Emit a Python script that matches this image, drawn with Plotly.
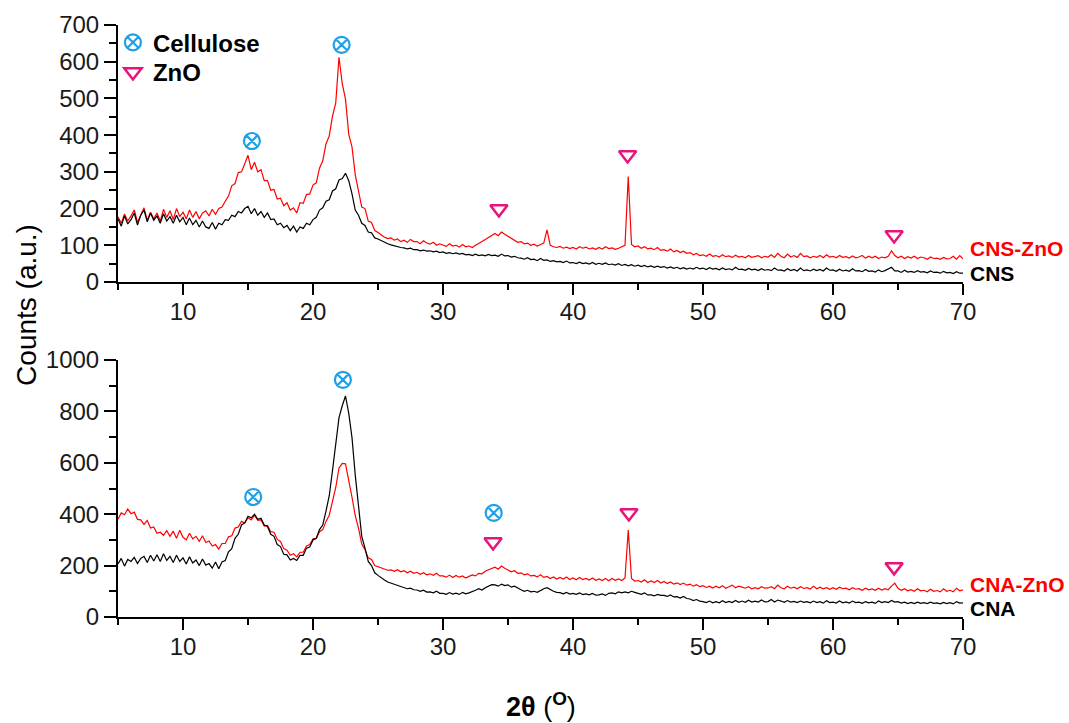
import numpy as np
import plotly.graph_objects as go

# 2-theta grid (degrees), 0.25 deg step from 5 to 70
two_theta = np.round(np.arange(5.0, 70.0001, 0.25), 2)

# ---- Top panel: CNS-ZnO (red) and CNS (black) ----
cns_zno = [
    178, 160, 185, 166,  180, 196, 163, 184,  202, 168, 190, 172,  188, 166, 198, 176,
    194, 170, 200, 178,  190, 172, 196, 176,  192, 172, 188, 194,  180, 198, 184, 200,
    204, 220, 234, 262,  268, 298, 300, 322,  345, 306, 326, 300,  306, 276, 276, 250,
    252, 226, 228, 208,  216, 196, 202, 188,  216, 214, 238, 240,  264, 270, 310, 330,
    376, 398, 452, 488,  612, 540, 498, 402,  368, 292, 248, 204,  200, 166, 162, 140,
    135, 128, 122, 118,  120, 114, 117, 110,  114, 108, 116, 110,  110, 104, 112, 106,
    103, 108, 100, 104,  101, 97, 104, 98,    100, 95, 102, 96,    98, 94, 100, 104,
    110, 116, 122, 128,  132, 126, 136, 130,  125, 118, 114, 108,  110, 104, 106, 100,
    103, 98, 102, 106,   142, 100, 96, 94,    97, 92, 95, 91,      94, 90, 96, 92,
    95, 90, 93, 89,      94, 90, 96, 91,      93, 89, 92, 96,      100, 287, 102, 96,
    98, 92, 96, 90,      92, 88, 94, 86,      88, 84, 90, 82,      86, 80, 84, 78,
    80, 74, 78, 72,      74, 70, 76, 70,      72, 68, 74, 69,      71, 67, 73, 68,
    70, 66, 72, 67,      69, 72, 66, 70,      68, 74, 67, 78,      70, 66, 76, 68,
    72, 67, 78, 69,      71, 66, 70, 67,      72, 66, 74, 68,      70, 66, 72, 67,
    69, 65, 71, 66,      68, 72, 65, 70,      66, 70, 64, 68,      66, 70, 85, 72,
    66, 70, 64, 69,      65, 70, 64, 68,      66, 62, 68, 64,      65, 62, 67, 63,
    64, 70, 62, 72,      63,
]
cns = [
    172, 152, 180, 158,  170, 188, 155, 182,  196, 164, 188, 168,  180, 160, 186, 166,
    178, 160, 182, 164,  176, 156, 174, 156,  168, 150, 166, 150,  146, 162, 144, 160,
    156, 170, 168, 182,  178, 192, 188, 200,  206, 186, 200, 182,  192, 176, 188, 170,
    172, 156, 160, 148,  154, 140, 152, 136,  150, 146, 160, 156,  170, 176, 196, 202,
    220, 224, 248, 254,  278, 282, 296, 276,  240, 196, 182, 160,  154, 136, 134, 120,
    117, 112, 108, 104,  101, 98, 96, 94,     93, 90, 92, 88,      88, 85, 87, 84,
    85, 82, 84, 80,      82, 78, 80, 77,      79, 76, 78, 74,      75, 72, 76, 72,
    74, 71, 75, 72,      73, 70, 76, 71,      72, 68, 70, 66,      65, 62, 66, 61,
    62, 58, 64, 59,      60, 56, 58, 55,      56, 53, 57, 52,      53, 50, 54, 50,
    52, 49, 53, 48,      51, 48, 52, 47,      49, 46, 50, 45,      48, 44, 47, 43,
    46, 42, 45, 41,      44, 40, 43, 40,      42, 38, 41, 37,      40, 36, 39, 35,
    38, 35, 40, 36,      38, 34, 39, 35,      37, 33, 38, 34,      36, 33, 40, 34,
    35, 32, 37, 33,      35, 31, 36, 32,      34, 31, 38, 32,      33, 30, 36, 31,
    34, 30, 38, 31,      33, 30, 35, 31,      34, 30, 38, 32,      33, 29, 35, 30,
    32, 29, 36, 30,      31, 28, 34, 29,      30, 27, 33, 28,      31, 36, 40, 30,
    30, 26, 32, 27,      29, 26, 31, 27,      28, 25, 30, 26,      27, 24, 29, 25,
    26, 23, 28, 24,      24,
]

# ---- Bottom panel: CNA-ZnO (red) and CNA (black) ----
cna_zno = [
    380, 405, 398, 420,  402, 408, 380, 378,  360, 376, 346, 350,  326, 330, 318, 336,
    314, 334, 306, 338,  310, 300, 326, 304,  314, 294, 316, 290,  296, 276, 282, 264,
    286, 286, 312, 316,  346, 350, 372, 366,  386, 378, 396, 376,  378, 354, 356, 332,
    330, 302, 294, 266,  260, 240, 246, 234,  252, 252, 276, 282,  304, 306, 332, 340,
    372, 396, 450, 504,  580, 598, 596, 534,  466, 394, 346, 284,  262, 230, 224, 200,
    196, 190, 186, 182,  183, 178, 184, 176,  180, 172, 178, 170,  174, 166, 172, 164,
    168, 162, 170, 160,  160, 155, 163, 154,  162, 155, 160, 152,  158, 164, 160, 170,
    168, 178, 184, 190,  194, 186, 198, 190,  184, 176, 180, 170,  172, 164, 168, 160,
    162, 156, 164, 154,  158, 150, 156, 148,  154, 148, 156, 146,  152, 145, 154, 146,
    150, 144, 152, 143,  148, 142, 150, 141,  150, 143, 148, 142,  152, 338, 150, 140,
    142, 136, 145, 134,  140, 134, 142, 132,  138, 130, 136, 128,  133, 126, 132, 124,
    128, 120, 126, 118,  122, 115, 120, 113,  120, 114, 122, 112,  118, 124, 114, 120,
    116, 112, 118, 110,  114, 110, 118, 112,  113, 118, 110, 124,  114, 110, 120, 112,
    116, 110, 118, 111,  114, 109, 120, 110,  116, 110, 114, 108,  114, 108, 116, 110,
    112, 106, 114, 108,  110, 104, 112, 106,  109, 104, 112, 105,  110, 106, 120, 132,
    112, 104, 110, 102,  106, 100, 110, 102,  104, 98, 108, 100,   103, 98, 110, 100,
    104, 98, 112, 102,   106,
]
cna = [
    206, 228, 198, 224,  216, 232, 208, 228,  236, 212, 240, 218,  242, 216, 246, 220,
    236, 212, 240, 216,  230, 206, 234, 210,  222, 200, 226, 202,  208, 190, 214, 188,
    214, 220, 254, 266,  306, 322, 358, 366,  392, 386, 400, 380,  384, 358, 352, 322,
    314, 282, 274, 244,  242, 222, 228, 220,  240, 240, 268, 272,  300, 306, 340, 358,
    412, 472, 570, 672,  776, 822, 860, 792,  698, 552, 428, 314,  268, 216, 200, 172,
    162, 152, 144, 136,  132, 126, 122, 118,  114, 110, 112, 106,  105, 100, 104, 97,
    98, 94, 100, 92,     92, 88, 95, 89,      93, 88, 96, 90,      94, 98, 104, 110,
    105, 114, 120, 126,  125, 120, 128, 122,  125, 116, 120, 112,  106, 100, 104, 98,
    100, 96, 104, 110,   114, 106, 100, 96,   95, 90, 96, 89,      92, 88, 94, 87,
    90, 86, 92, 85,      86, 90, 84, 92,      94, 90, 98, 94,      98, 94, 100, 96,
    92, 88, 94, 86,      86, 82, 88, 84,      84, 80, 86, 78,      79, 74, 80, 72,
    70, 64, 68, 62,      60, 56, 62, 55,      60, 55, 63, 56,      61, 56, 64, 57,
    62, 57, 65, 58,      62, 58, 66, 59,      60, 68, 58, 66,      62, 57, 64, 58,
    61, 56, 62, 57,      60, 55, 62, 56,      60, 54, 63, 56,      58, 54, 62, 55,
    59, 54, 62, 56,      58, 53, 60, 55,      58, 53, 62, 56,      60, 56, 64, 58,
    60, 54, 58, 52,      57, 52, 58, 53,      56, 52, 58, 53,      55, 51, 57, 52,
    56, 51, 60, 54,      55,
]

# ---- Peak markers (position in 2-theta, height of symbol) ----
cell_top_x = [15.3, 22.2]
cell_top_y = [384, 646]
zno_top_x = [34.3, 44.2, 64.7]
zno_top_y = [199, 346, 128]
cell_bot_x = [15.4, 22.3, 33.9]
cell_bot_y = [467, 923, 405]
zno_bot_x = [33.85, 44.3, 64.7]
zno_bot_y = [292, 405, 195]

RED = "#ff0000"
BLACK = "#000000"
BLUE = "#1ea0e8"
PINK = "#e8147c"
FONT = "Liberation Sans, Arial, sans-serif"

fig = go.Figure()

# data lines
fig.add_trace(go.Scatter(x=two_theta, y=cns_zno, mode="lines", line=dict(color=RED, width=1.2),
                         showlegend=False, xaxis="x", yaxis="y"))
fig.add_trace(go.Scatter(x=two_theta, y=cns, mode="lines", line=dict(color=BLACK, width=1.2),
                         showlegend=False, xaxis="x", yaxis="y"))
fig.add_trace(go.Scatter(x=two_theta, y=cna_zno, mode="lines", line=dict(color=RED, width=1.2),
                         showlegend=False, xaxis="x2", yaxis="y2"))
fig.add_trace(go.Scatter(x=two_theta, y=cna, mode="lines", line=dict(color=BLACK, width=1.2),
                         showlegend=False, xaxis="x2", yaxis="y2"))

cell_marker = dict(symbol="circle-x-open", size=16, color=BLUE, line=dict(color=BLUE, width=2.2))
zno_marker = dict(symbol="triangle-down-open", size=15, color=PINK, line=dict(color=PINK, width=2.5))

fig.add_trace(go.Scatter(x=cell_top_x, y=cell_top_y, mode="markers", marker=cell_marker,
                         name="Cellulose", showlegend=True, legend="legend",
                         xaxis="x", yaxis="y"))
fig.add_trace(go.Scatter(x=zno_top_x, y=zno_top_y, mode="markers", marker=zno_marker,
                         name="ZnO", showlegend=True, legend="legend2",
                         xaxis="x", yaxis="y"))
fig.add_trace(go.Scatter(x=cell_bot_x, y=cell_bot_y, mode="markers", marker=cell_marker,
                         showlegend=False, xaxis="x2", yaxis="y2"))
fig.add_trace(go.Scatter(x=zno_bot_x, y=zno_bot_y, mode="markers", marker=zno_marker,
                         showlegend=False, xaxis="x2", yaxis="y2"))

tickfont = dict(family=FONT, size=24, color="#1a1a1a")
common_x = dict(range=[5, 70], showline=True, linewidth=2, linecolor=BLACK,
                ticks="outside", ticklen=11, tickwidth=2, tickcolor=BLACK,
                tick0=0, dtick=10, showgrid=False, zeroline=False, tickfont=tickfont,
                ticklabelstandoff=-4,
                minor=dict(ticks="outside", ticklen=6, tickwidth=2, tickcolor=BLACK,
                           tick0=0, dtick=5, showgrid=False))
common_y = dict(showline=True, linewidth=2, linecolor=BLACK,
                ticks="outside", ticklen=12, tickwidth=2, tickcolor=BLACK,
                showgrid=False, zeroline=False, tickfont=tickfont)

legend_font = dict(family=FONT, size=24, color=BLACK, weight="bold")

fig.update_layout(
    width=1069, height=723,
    margin=dict(l=118, r=106, t=25, b=106),
    paper_bgcolor="white", plot_bgcolor="white",
    xaxis=dict(domain=[0, 1], anchor="y", **common_x),
    yaxis=dict(domain=[0.5659, 1], anchor="x", range=[0, 700], tick0=0, dtick=100,
               minor=dict(ticks="outside", ticklen=7, tickwidth=2, tickcolor=BLACK,
                          tick0=0, dtick=50, showgrid=False), **common_y),
    xaxis2=dict(domain=[0, 1], anchor="y2", **common_x),
    yaxis2=dict(domain=[0, 0.4341], anchor="x2", range=[0, 1000], tick0=0, dtick=200,
                minor=dict(ticks="outside", ticklen=7, tickwidth=2, tickcolor=BLACK,
                           tick0=0, dtick=100, showgrid=False), **common_y),
    legend=dict(x=-0.006, y=1.008, xanchor="left", yanchor="top",
                bgcolor="rgba(0,0,0,0)", font=legend_font),
    legend2=dict(x=-0.006, y=0.958, xanchor="left", yanchor="top",
                 bgcolor="rgba(0,0,0,0)", font=legend_font),
    showlegend=True,
)

annotations = [
    dict(text="Counts (a.u.)", xref="paper", yref="paper", x=-0.109, y=0.527,
         xanchor="center", yanchor="middle",
         textangle=-90, showarrow=False, font=dict(family=FONT, size=28, color=BLACK)),
    dict(text="<b>2θ</b> (<sup><b>O</b></sup>)", xref="paper", yref="paper",
         x=0.5, y=-0.149, yanchor="middle", showarrow=False,
         font=dict(family=FONT, size=27, color=BLACK)),
    dict(text="<b>CNS-ZnO</b>", xref="x", yref="y", x=70, y=90, xanchor="left", xshift=5,
         showarrow=False, font=dict(family=FONT, size=21, color=RED)),
    dict(text="<b>CNS</b>", xref="x", yref="y", x=70, y=22, xanchor="left", xshift=5,
         showarrow=False, font=dict(family=FONT, size=21, color=BLACK)),
    dict(text="<b>CNA-ZnO</b>", xref="x2", yref="y2", x=70, y=128, xanchor="left", xshift=5,
         showarrow=False, font=dict(family=FONT, size=21, color=RED)),
    dict(text="<b>CNA</b>", xref="x2", yref="y2", x=70, y=35, xanchor="left", xshift=5,
         showarrow=False, font=dict(family=FONT, size=21, color=BLACK)),
]
fig.update_layout(annotations=annotations)

fig.write_html(
    "out.html",
    config={"displayModeBar": False},
    post_script="document.body.style.margin='0';document.body.style.overflow='hidden';",
)
